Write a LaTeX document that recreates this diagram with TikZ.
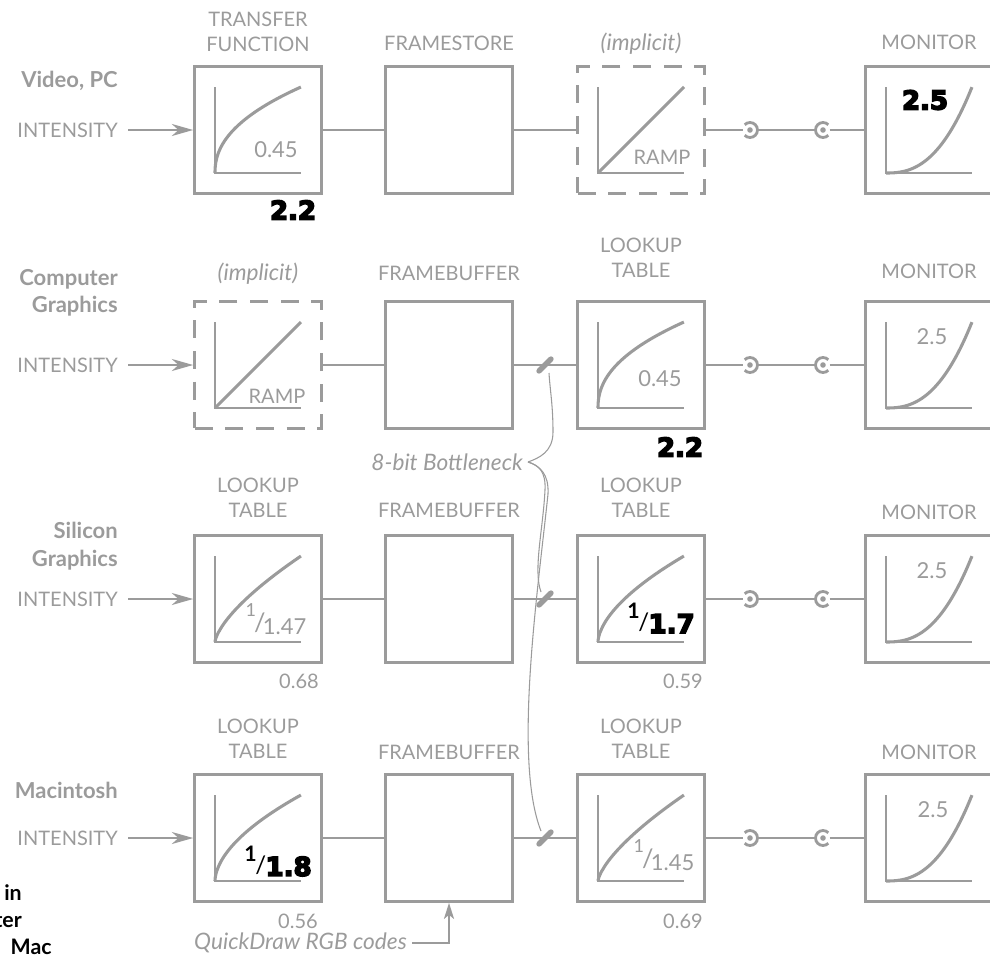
\documentclass[tikz,border=0pt]{standalone}
\usepackage{fontspec}
\setmainfont{Lato}
\newfontfamily\heavyfont[FakeBold=6]{DejaVu Sans Bold}
\usetikzlibrary{arrows.meta}
\definecolor{diag}{RGB}{155,155,155}

\newcommand{\grayfrac}[2]{\raisebox{13pt}{\fontsize{13.5}{14}\selectfont#1}\kern-1.5pt\raisebox{2pt}{\fontsize{19}{19}\selectfont/}\kern-2pt#2}
\newcommand{\heavyfrac}[2]{\raisebox{11pt}{\fontsize{16}{16}\selectfont\bfseries#1}\kern-1pt\raisebox{2pt}{\fontsize{18}{18}\selectfont/}\kern-0.5pt{\heavyfont\fontsize{19.5}{20}\selectfont#2}}
\newcommand{\pwcurve}[3]{\draw[curve, shift={(#1)}] plot[domain=0.001:1, samples=60] ({-43+86*(\x)^(#2)}, {43-86*(\x)^(#3)});}

\begin{document}
\begin{tikzpicture}[x=0.75pt, y=-0.75pt,
    blk/.style={draw=diag, line width=2.25pt, minimum size=95pt, inner sep=0pt},
    dblk/.style={blk, dash pattern=on 13.5pt off 9.5pt},
    wire/.style={draw=diag, line width=1.9pt},
    axis/.style={draw=diag, line width=1.9pt},
    curve/.style={draw=diag, line width=2.3pt},
    jack/.style={draw=diag, line width=2.1pt},
    thinwire/.style={draw=diag, line width=0.8pt},
    arr/.style={wire, -{Stealth[length=16pt, width=9pt, inset=5pt]}},
    tick/.style={draw=diag, line width=4pt, line cap=round},
    hdr/.style={text=diag, font=\fontsize{15}{18.5}\selectfont, align=center, inner sep=0pt},
    rowlbl/.style={text=diag, font=\fontsize{16.5}{20.5}\selectfont\bfseries, align=right, anchor=east, inner sep=0pt},
    note/.style={text=diag, font=\fontsize{17}{19}\selectfont\itshape, inner sep=0pt},
    inlbl/.style={text=diag, font=\fontsize{16.5}{18}\selectfont, inner sep=0pt},
    heavy/.style={text=black, font=\heavyfont\fontsize{19.5}{20}\selectfont, inner sep=0pt},
    cut/.style={text=black, font=\fontsize{16}{18}\selectfont\bfseries, inner sep=0pt, anchor=east}
  ]
\useasboundingbox (0,0) rectangle (990,957);

% row names
\node[rowlbl] (n1) at (118,81) {Video, PC};
\node[rowlbl] (n2) at (118,293) {Computer\\Graphics};
\node[rowlbl] (n3) at (118,546) {Silicon\\Graphics};
\node[rowlbl] (n4) at (118,790) {Macintosh};

% boxes
\node[blk]  (b11) at (258,130) {};
\node[blk]  (b12) at (449,130) {};
\node[dblk] (b13) at (641,130) {};
\node[blk]  (b14) at (929,130) {};
\node[dblk] (b21) at (258,365) {};
\node[blk]  (b22) at (449,365) {};
\node[blk]  (b23) at (641,365) {};
\node[blk]  (b24) at (929,365) {};
\node[blk]  (b31) at (258,599) {};
\node[blk]  (b32) at (449,599) {};
\node[blk]  (b33) at (641,599) {};
\node[blk]  (b34) at (929,599) {};
\node[blk]  (b41) at (258,838) {};
\node[blk]  (b42) at (449,838) {};
\node[blk]  (b43) at (641,838) {};
\node[blk]  (b44) at (929,838) {};

% headings
\node[hdr]  (h11) at (258,32) {TRANSFER\\FUNCTION};
\node[hdr]  (h12) at (449,43) {FRAMESTORE};
\node[note] (h13) at (641,44) {(implicit)};
\node[hdr]  (h14) at (929,42) {MONITOR};
\node[note] (h21) at (258,274) {(implicit)};
\node[hdr]  (h22) at (449,273) {FRAMEBUFFER};
\node[hdr]  (h23) at (641,258) {LOOKUP\\TABLE};
\node[hdr]  (h24) at (929,271) {MONITOR};
\node[hdr]  (h31) at (258,498) {LOOKUP\\TABLE};
\node[hdr]  (h32) at (449,510) {FRAMEBUFFER};
\node[hdr]  (h33) at (641,498) {LOOKUP\\TABLE};
\node[hdr]  (h34) at (929,512) {MONITOR};
\node[hdr]  (h41) at (258,739) {LOOKUP\\TABLE};
\node[hdr]  (h42) at (449,752) {FRAMEBUFFER};
\node[hdr]  (h43) at (641,739) {LOOKUP\\TABLE};
\node[hdr]  (h44) at (929,752) {MONITOR};

% signal path of each row
\foreach \r/\y in {1/130,2/365,3/599,4/838}{
  \node[hdr, anchor=east] (in\r) at (118,\y) {INTENSITY};
  \coordinate (ja\r) at (750,\y);
  \coordinate (jb\r) at (823,\y);
  \draw[arr] (in\r.east) ++(10,0) -- (b\r1);
  \draw[wire] (b\r1) -- (b\r2) (b\r2) -- (b\r3);
  \draw[wire, shorten >=5pt] (b\r3) -- (ja\r);
  \draw[wire, shorten <=5pt, shorten >=5pt] (ja\r) -- (jb\r);
  \draw[wire, shorten <=5pt] (jb\r) -- (b\r4);
  \draw[jack] (ja\r) ++(135:7.5) arc[start angle=135, end angle=-135, radius=7.5];
  \draw[jack] (jb\r) ++(45:7.5) arc[start angle=45, end angle=315, radius=7.5];
  \fill[diag] (ja\r) circle[radius=2.8] (jb\r) circle[radius=2.8];
}

% axes and transfer curves
\foreach \b in {b11,b13,b14,b21,b23,b24,b31,b33,b34,b41,b43,b44}
  \draw[axis] (\b) +(-43,-43) |- +(43,43);
\pwcurve{b11}{2.222}{1}
\draw[curve] (b13) +(-43,43) -- +(43,-43);
\pwcurve{b14}{1}{2.5}
\draw[curve] (b21) +(-43,43) -- +(43,-43);
\pwcurve{b23}{2.222}{1}
\pwcurve{b24}{1}{2.5}
\pwcurve{b31}{1.47}{1}
\pwcurve{b33}{1.7}{1}
\pwcurve{b34}{1}{2.5}
\pwcurve{b41}{1.8}{1}
\pwcurve{b43}{1.45}{1}
\pwcurve{b44}{1}{2.5}

% values
\node[inlbl] (v11) at (276,150) {0.45};
\node[hdr]   (v13) at (662,157) {RAMP};
\node[heavy] (v14) at (925,100) {2.5};
\node[hdr]   (v21) at (277,396) {RAMP};
\node[inlbl] (v23) at (660,379) {0.45};
\node[inlbl] (v24) at (932,337) {2.5};
\node[inlbl] (v31) at (276,619) {\grayfrac{1}{1.47}};
\node[inlbl, text=black] (v33) at (661,618) {\heavyfrac{1}{1.7}};
\node[inlbl] (v34) at (932,571) {2.5};
\node[inlbl, text=black] (v41) at (278,861) {\heavyfrac{1}{1.8}};
\node[inlbl] (v43) at (664,855) {\grayfrac{1}{1.45}};
\node[inlbl] (v44) at (933,810) {2.5};
\node[heavy] (g1) at (293,210) {2.2};
\node[heavy] (g2) at (680,447) {2.2};
\node[hdr] (e31) at (299,681) {0.68};
\node[hdr] (e33) at (683,681) {0.59};
\node[hdr] (e41) at (298,921) {0.56};
\node[hdr] (e43) at (683,921) {0.69};

% 8-bit bottleneck
\coordinate (s2) at (545,365);
\coordinate (s3) at (545,599);
\coordinate (s4) at (545,838);
\foreach \s in {s2,s3,s4}
  \draw[tick] (\s) +(-6,6) -- +(6,-6);
\node[note, anchor=east] (neck) at (523,462) {8-bit Bottleneck};
\coordinate (tip) at (528,462);
\draw[thinwire] (tip) .. controls (539,458) and (553,452) .. (553,432) .. controls (553,405) and (550,390) .. (549,373);
\draw[thinwire] (tip) .. controls (539,465) and (546,472) .. (545,490) .. controls (543,530) and (533,570) .. (541,592);
\draw[thinwire] (tip) .. controls (540,466) and (549,474) .. (548,494) .. controls (538,590) and (513,760) .. (541,831);

% QuickDraw input
\node[note, anchor=east] (qd) at (407,943) {QuickDraw RGB codes};
\draw[wire, -{Stealth[length=12pt, width=7.5pt, inset=3pt]}] (qd.east) ++(5,0) -| (b42.south);

% cut-off caption
\node[cut] (c1) at (22,893) {in};
\node[cut] (c2) at (22,920) {ter};
\node[cut] (c3) at (52,947) {Mac};
\end{tikzpicture}
\end{document}
